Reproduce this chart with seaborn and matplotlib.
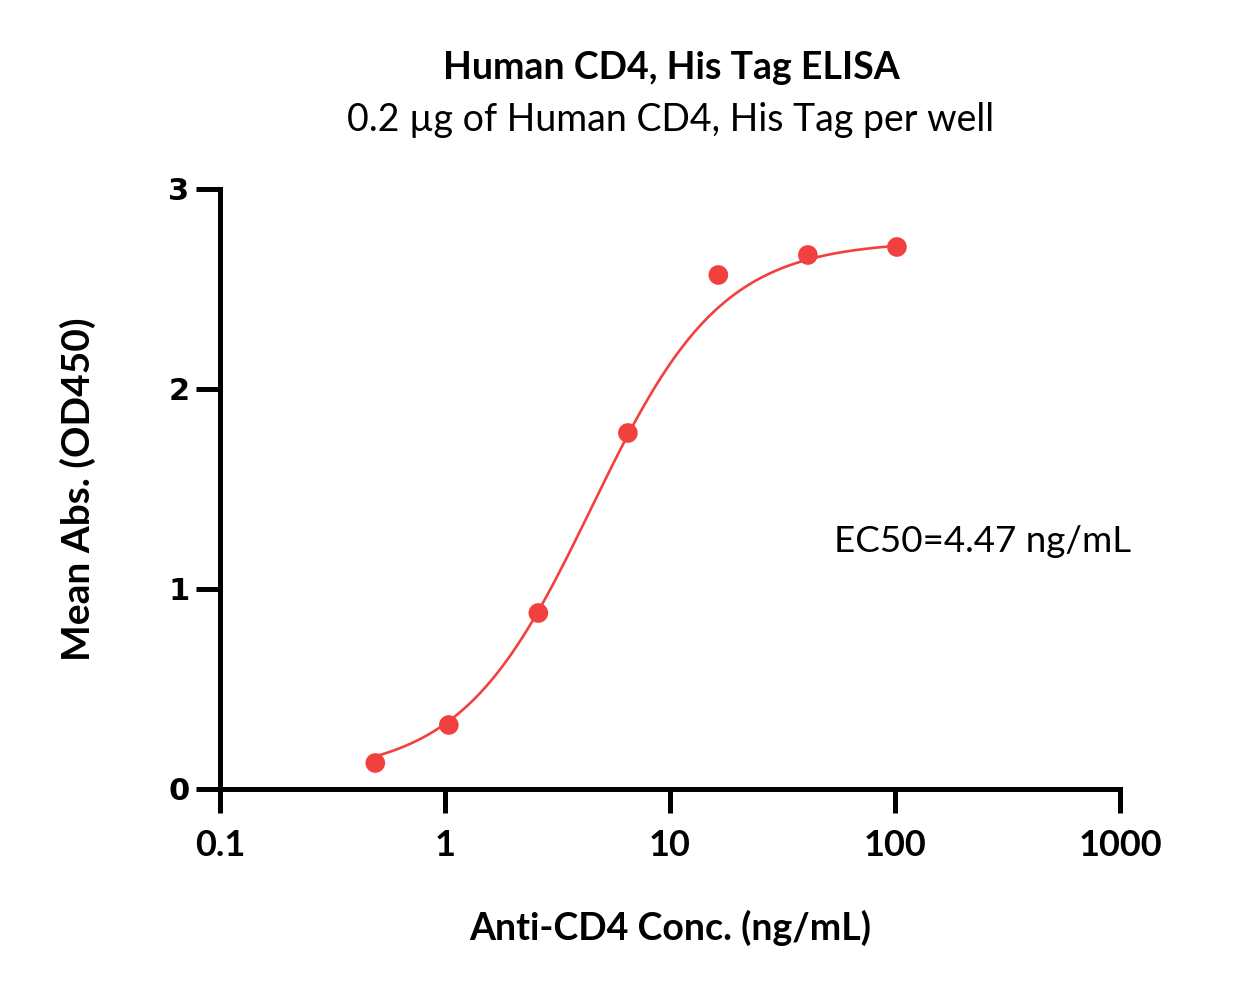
import numpy as np
import pandas as pd
import matplotlib
matplotlib.use("Agg")
import matplotlib.pyplot as plt
import seaborn as sns

conc = [0.49, 1.04, 2.6, 6.5, 16.4, 41.0, 102.0]
mean_abs = [0.13, 0.32, 0.88, 1.78, 2.57, 2.67, 2.71]

# 4PL fit parameters for the drawn curve
fit_bottom = 0.07
fit_top = 2.74
fit_ec50 = 4.47
fit_hill = 1.5

x_ticks = [0.1, 1, 10, 100, 1000]
x_tick_labels = ["0.1", "1", "10", "100", "1000"]
y_ticks = [0, 1, 2, 3]

red = "#F2403F"

sns.set_theme(style="ticks")
plt.rcParams["font.family"] = ["Lato", "DejaVu Sans"]
plt.rcParams["text.color"] = "black"
plt.rcParams["axes.labelcolor"] = "black"
plt.rcParams["xtick.color"] = "black"
plt.rcParams["ytick.color"] = "black"

points = pd.DataFrame({"conc": conc, "abs": mean_abs})
xs = np.logspace(np.log10(conc[0]), np.log10(conc[-1]), 300)
curve = pd.DataFrame({
    "conc": xs,
    "abs": fit_bottom + (fit_top - fit_bottom) / (1 + (fit_ec50 / xs) ** fit_hill),
})

fig = plt.figure(figsize=(12.45, 9.93), dpi=100)
ax = fig.add_axes([220 / 1245, 1 - 789 / 993, 900 / 1245, 600 / 993])

sns.lineplot(data=curve, x="conc", y="abs", color=red, linewidth=1.9, ax=ax)
sns.scatterplot(data=points, x="conc", y="abs", color=red, s=200,
                edgecolor="none", ax=ax, zorder=3)

ax.set_xscale("log")
ax.set_xlim(0.1, 1000)
ax.set_ylim(0, 3)
ax.set_xticks(x_ticks)
ax.set_xticklabels(x_tick_labels)
ax.minorticks_off()
ax.set_yticks(y_ticks)
ax.set_yticklabels([str(v) for v in y_ticks], family="DejaVu Sans",
                   fontweight="bold", fontsize=22)
for lbl in ax.get_xticklabels():
    lbl.set_fontweight("bold")
    lbl.set_fontsize(26)

sns.despine(ax=ax)
for side in ["left", "bottom"]:
    ax.spines[side].set_linewidth(3.6)
    ax.spines[side].set_color("black")
ax.tick_params(axis="both", length=17, width=3.6, color="black",
               direction="out")
ax.tick_params(axis="y", pad=5)
ax.tick_params(axis="x", pad=12)

ax.set_xlabel("Anti-CD4 Conc. (ng/mL)", fontsize=27, fontweight="bold",
              labelpad=34)
ax.set_ylabel("Mean Abs. (OD450)", fontsize=28, fontweight="bold",
              labelpad=52)

fig.text(671 / 1245, 1 - 68 / 993, "Human CD4, His Tag ELISA",
         ha="center", va="center", fontsize=27, fontweight="bold")
fig.text(671 / 1245, 1 - 120 / 993, "0.2 µg of Human CD4, His Tag per well",
         ha="center", va="center", fontsize=27)
ax.text(246, 1.235, "EC50=4.47 ng/mL", ha="center", va="center", fontsize=26.5)

fig.savefig("out.png", dpi=100)
